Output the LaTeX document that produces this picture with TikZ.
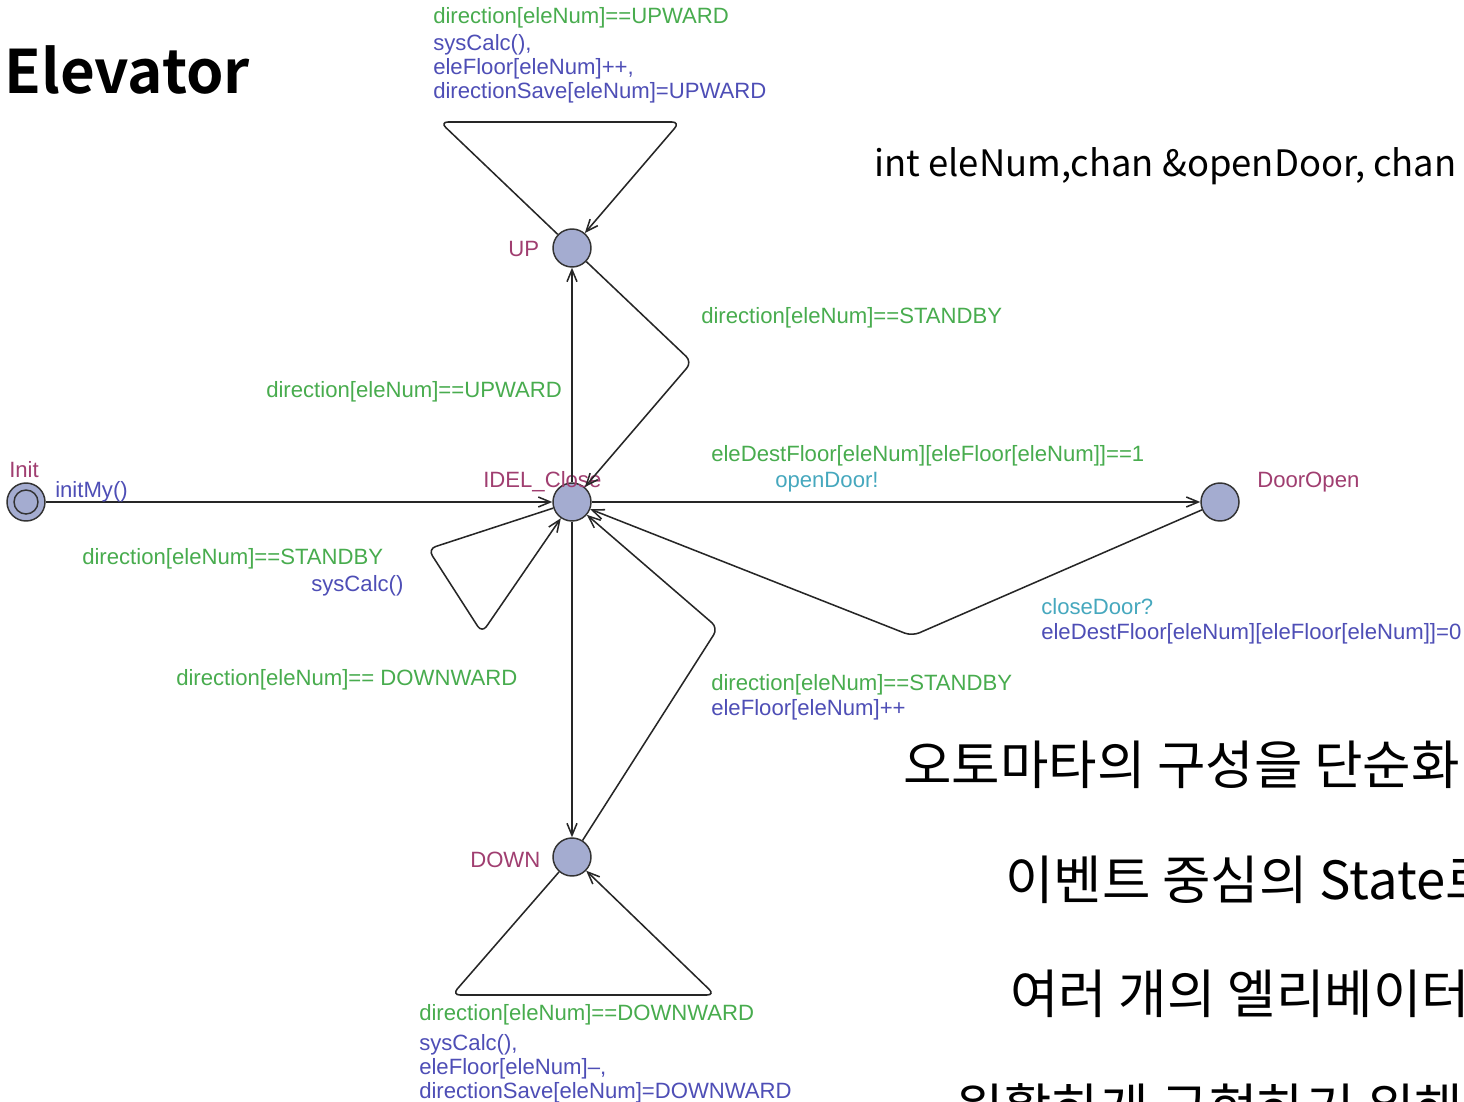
\documentclass[tikz,border=0pt]{standalone}
\usepackage{fontspec}
\setmainfont{Liberation Sans}
\newfontfamily\krfont{Noto Sans CJK KR}
\newfontfamily\krbold{Noto Sans CJK KR Bold}
\usetikzlibrary{arrows.meta}

\definecolor{guardc}{RGB}{72,172,78}
\definecolor{updatec}{RGB}{78,78,182}
\definecolor{syncc}{RGB}{70,168,190}
\definecolor{locname}{RGB}{160,62,112}
\definecolor{locfill}{RGB}{164,172,208}

\begin{document}
\begin{tikzpicture}[x=0.75pt,y=-0.75pt,
  loc/.style={circle, draw=black!80, fill=locfill, line width=1.1pt,
    minimum size=28.5pt, inner sep=0pt},
  trans/.style={draw=black!85, line width=1.15pt, rounded corners=6pt,
    -{Straight Barb[length=9pt,width=7.5pt]}},
  lbl/.style={anchor=base west, inner sep=0pt,
    font=\fontsize{16.6}{19}\selectfont},
  guard/.style={lbl, text=guardc},
  update/.style={lbl, text=updatec},
  sync/.style={lbl, text=syncc},
  lname/.style={lbl, text=locname},
  slide/.style={anchor=base west, inner sep=0pt, text=black}]

% page frame
\path[use as bounding box, clip] (0,0) rectangle (1464,1102);
\fill[white] (0,0) rectangle (1464,1102);

% locations
\node[loc] (init) at (26,502) {};
\draw[black!80, line width=1.1pt] (init.center) circle[radius=12];
\node[loc] (idle) at (572,502) {};
\node[loc] (up) at (572,248) {};
\node[loc] (down) at (572,857) {};
\node[loc] (open) at (1220,502) {};

% location names
\node[lname] (n-init) at (9,477) {Init};
\node[lname] (n-idle) at (483,487) {IDEL\_Close};
\node[lname] (n-up) at (508,257) {UP};
\node[lname] (n-down) at (470,867) {DOWN};
\node[lname] (n-open) at (1257,487) {DoorOpen};

% transitions
\draw[trans] (init) -- (idle);
\draw[trans] (idle) -- (up);
\draw[trans] (up) -- (692,362) -- (idle);
\draw[trans] (up) -- (440,122) -- (680,122) -- (up);
\draw[trans] (idle) -- (open);
\draw[trans] (open) -- (912,636) -- (idle);
\draw[trans] (idle) -- (428,549) -- (482,633) -- (idle);
\draw[trans] (idle) -- (down);
\draw[trans] (down) -- (718,628) -- (idle);
\draw[trans] (down) -- (452,995) -- (715,995) -- (down);

% transition labels
\node[update] (l-init) at (55,497) {initMy()};

\node[guard] (g-upself) at (433,24) {direction[eleNum]==UPWARD};
\node[update] (u-upself1) at (433,51) {sysCalc(),};
\node[update] (u-upself2) at (433,75) {eleFloor[eleNum]++,};
\node[update] (u-upself3) at (433,99) {directionSave[eleNum]=UPWARD};

\node[guard] (g-upidle) at (701,323) {direction[eleNum]==STANDBY};
\node[guard] (g-idleup) at (266,397) {direction[eleNum]==UPWARD};

\node[guard] (g-open) at (711,461) {eleDestFloor[eleNum][eleFloor[eleNum]]==1};
\node[sync] (s-open) at (775,487) {openDoor!};

\node[sync] (s-close) at (1041,614) {closeDoor?};
\node[update] (u-close) at (1041,639) {eleDestFloor[eleNum][eleFloor[eleNum]]=0};

\node[guard] (g-idleself) at (82,564) {direction[eleNum]==STANDBY};
\node[update] (u-idleself) at (311,591) {sysCalc()};

\node[guard] (g-idledown) at (176,685) {direction[eleNum]== DOWNWARD};

\node[guard] (g-downidle) at (711,690) {direction[eleNum]==STANDBY};
\node[update] (u-downidle) at (711,715) {eleFloor[eleNum]++};

\node[guard] (g-downself) at (419,1020) {direction[eleNum]==DOWNWARD};
\node[update] (u-downself1) at (419,1050) {sysCalc(),};
\node[update] (u-downself2) at (419,1074) {eleFloor[eleNum]--,};
\node[update] (u-downself3) at (419,1098) {directionSave[eleNum]=DOWNWARD};

% title and side notes
\node[slide, font=\krbold\fontsize{45}{54}\selectfont] (title) at (4,94) {Elevator};
\node[slide, font=\krfont\fontsize{27.3}{33}\selectfont] (decl) at (874,177) {int eleNum,chan \&openDoor, chan};
\node[slide, font=\krfont\fontsize{39.5}{46}\selectfont] (k1) at (903,784) {오토마타의 구성을 단순화};
\node[slide, font=\krfont\fontsize{39.5}{46}\selectfont] (k2) at (1005,899) {이벤트 중심의 State로};
\node[slide, font=\krfont\fontsize{39.5}{46}\selectfont] (k3) at (1010,1013) {여러 개의 엘리베이터};
\node[slide, font=\krfont\fontsize{39.5}{46}\selectfont] (k4) at (955,1127) {원활하게 구현하기 위해};
\end{tikzpicture}
\end{document}
